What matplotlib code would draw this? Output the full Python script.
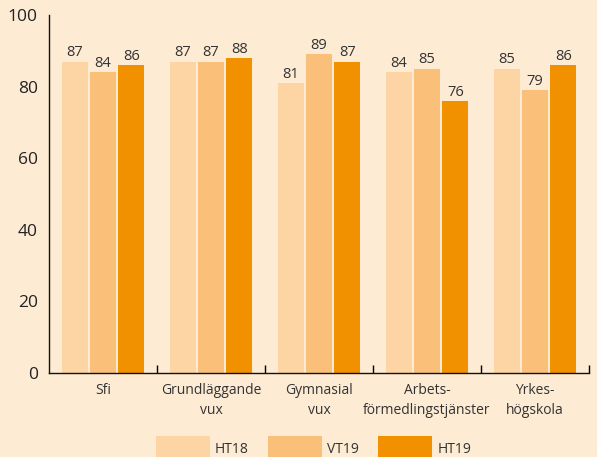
import numpy as np
import matplotlib
matplotlib.use("Agg")
import matplotlib.pyplot as plt
from matplotlib.patches import Patch

plt.rcParams['font.family'] = ['Open Sans', 'DejaVu Sans']

categories = ["Sfi", "Grundläggande\nvux", "Gymnasial\nvux",
              "Arbets-\nförmedlingstjänster", "Yrkes-\nhögskola"]
series_names = ["HT18", "VT19", "HT19"]
ht18 = [87, 87, 81, 84, 85]
vt19 = [84, 87, 89, 85, 79]
ht19 = [86, 88, 87, 76, 86]
yticks = [0, 20, 40, 60, 80, 100]

colors = ["#FDD4A3", "#FAC07A", "#F29100"]
bg = "#FDEBD4"

fig = plt.figure(figsize=(5.97, 4.57), dpi=100, facecolor=bg)
ax = fig.add_axes([49/597, 1 - 373/457, 540/597, 358/457])
ax.set_facecolor(bg)

x = np.arange(len(categories))
width = 0.24
offsets = [-0.262, 0, 0.262]
for vals, off, c in zip([ht18, vt19, ht19], offsets, colors):
    bars = ax.bar(x + off, vals, width, color=c, linewidth=0)
    ax.bar_label(bars, labels=[str(v) for v in vals], padding=1,
                 fontsize=10.5, color="#333333")

ax.set_xlim(-0.5, len(categories) - 0.5)
ax.set_ylim(0, 100)
ax.set_yticks(yticks)
ax.set_xticks(x)
ax.set_xticklabels(categories, fontsize=10, color="#333333", linespacing=1.5)
ax.set_xticks(np.arange(len(categories)) + 0.5, minor=True)
ax.tick_params(axis='x', which='major', length=0, pad=7)
ax.tick_params(axis='x', which='minor', direction='in', length=6, width=1)
ax.tick_params(axis='y', length=0, pad=8, labelsize=12.5, labelcolor="#222222")

for s in ['top', 'right']:
    ax.spines[s].set_visible(False)
for s in ['left', 'bottom']:
    ax.spines[s].set_linewidth(1)
    ax.spines[s].set_color("#111111")

handles = [Patch(facecolor=c, edgecolor='none') for c in colors]
fig.legend(handles, series_names, loc='center', bbox_to_anchor=(0.525, 1 - 449/457),
           ncol=3, frameon=False, fontsize=10, handlelength=3.9, handleheight=2.4,
           handletextpad=0.35, columnspacing=1.4, borderpad=0, labelcolor="#333333")

fig.savefig("out.png", dpi=100, facecolor=bg)
